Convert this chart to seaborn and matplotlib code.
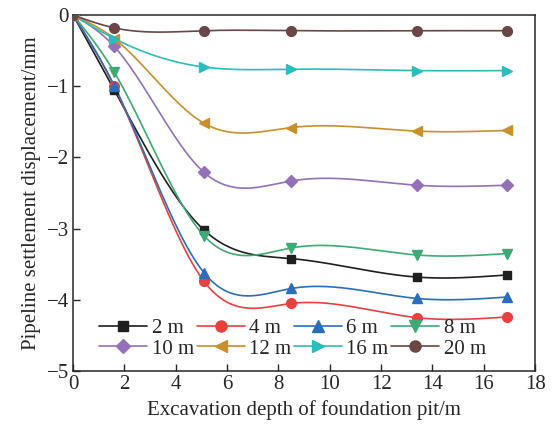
import numpy as np
import pandas as pd
import matplotlib
matplotlib.use("Agg")
import matplotlib.pyplot as plt
import seaborn as sns
from matplotlib.lines import Line2D

depth = [0, 1.6, 5.1, 8.5, 13.4, 16.9]
labels = ["2 m", "4 m", "6 m", "8 m", "10 m", "12 m", "16 m", "20 m"]
s2 = [0, -1.05, -3.02, -3.42, -3.68, -3.65]
s4 = [0, -1.00, -3.74, -4.05, -4.25, -4.24]
s6 = [0, -0.99, -3.62, -3.84, -3.98, -3.96]
s8 = [0, -0.80, -3.10, -3.27, -3.37, -3.35]
s10 = [0, -0.44, -2.21, -2.33, -2.39, -2.39]
s12 = [0, -0.33, -1.52, -1.58, -1.63, -1.62]
s16 = [0, -0.33, -0.73, -0.76, -0.78, -0.78]
s20 = [0, -0.18, -0.22, -0.22, -0.22, -0.22]
series = [s2, s4, s6, s8, s10, s12, s16, s20]

colors = ["#1f1f1f", "#e8403f", "#2a6ebb", "#3caa72", "#9370b8", "#c8902a", "#2bbcbc", "#6b4646"]
markers = ["s", "o", "^", "v", "D", "<", ">", "o"]
msizes = [6, 7, 7, 7, 6, 7, 7, 7]


def spline(x, y, n=200):
    # natural cubic spline, only used for drawing the connecting curve
    x = np.asarray(x, float)
    y = np.asarray(y, float)
    m = len(x)
    h = np.diff(x)
    A = np.zeros((m, m))
    b = np.zeros(m)
    A[0, 0] = A[-1, -1] = 1
    for i in range(1, m - 1):
        A[i, i - 1] = h[i - 1]
        A[i, i] = 2 * (h[i - 1] + h[i])
        A[i, i + 1] = h[i]
        b[i] = 6 * ((y[i + 1] - y[i]) / h[i] - (y[i] - y[i - 1]) / h[i - 1])
    M = np.linalg.solve(A, b)
    xs = np.linspace(x[0], x[-1], n)
    idx = np.clip(np.searchsorted(x, xs) - 1, 0, m - 2)
    x0, x1 = x[idx], x[idx + 1]
    hh = x1 - x0
    ys = (M[idx] * (x1 - xs) ** 3 / (6 * hh) + M[idx + 1] * (xs - x0) ** 3 / (6 * hh)
          + (y[idx] / hh - M[idx] * hh / 6) * (x1 - xs)
          + (y[idx + 1] / hh - M[idx + 1] * hh / 6) * (xs - x0))
    return xs, ys


sns.set_style("ticks")
plt.rcParams["font.family"] = ["Liberation Serif", "DejaVu Serif"]
plt.rcParams["xtick.direction"] = "in"
plt.rcParams["ytick.direction"] = "in"

fig = plt.figure(figsize=(5.54, 4.30), dpi=100)
ax = fig.add_axes([0.132, 0.137, 0.834, 0.828])

rows = []
for lab, ys in zip(labels, series):
    xs, yy = spline(depth, ys)
    rows.append(pd.DataFrame({"x": xs, "y": yy, "s": lab}))
curves = pd.concat(rows, ignore_index=True)
sns.lineplot(data=curves, x="x", y="y", hue="s", palette=dict(zip(labels, colors)),
             sort=False, estimator=None, linewidth=1.2, legend=False, ax=ax)

handles = []
for lab, ys, c, mk, ms in zip(labels, series, colors, markers, msizes):
    ax.plot(depth, ys, linestyle="none", marker=mk, color=c, markersize=ms, zorder=3)
    handles.append(Line2D([], [], color=c, marker=mk, markersize=ms + 1, linewidth=1.2, label=lab))

ax.set_xlim(0, 18)
ax.set_ylim(-5, 0)
ax.set_xticks(range(0, 19, 2))
ax.set_yticks(range(-5, 1))
ax.set_yticklabels(["\u22125", "\u22124", "\u22123", "\u22122", "\u22121", "0"])
ax.tick_params(labelsize=15, length=5, width=1, pad=3)
for sp in ax.spines.values():
    sp.set_linewidth(1.1)
    sp.set_visible(True)
ax.set_xlabel("Excavation depth of foundation pit/m", fontsize=15)
ax.set_ylabel("Pipeline settlement displacement/mm", fontsize=15)

# legend fills row by row: 2,4,6,8 on top, 10,12,16,20 below
order = [0, 4, 1, 5, 2, 6, 3, 7]
ax.legend(handles=[handles[i] for i in order], loc="lower left", bbox_to_anchor=(0.03, 0.0),
          ncol=4, frameon=False, fontsize=15, handlelength=2.3, columnspacing=0.15,
          handletextpad=0.2, labelspacing=0.05, borderaxespad=0.2)

fig.savefig("out.png", dpi=100)
